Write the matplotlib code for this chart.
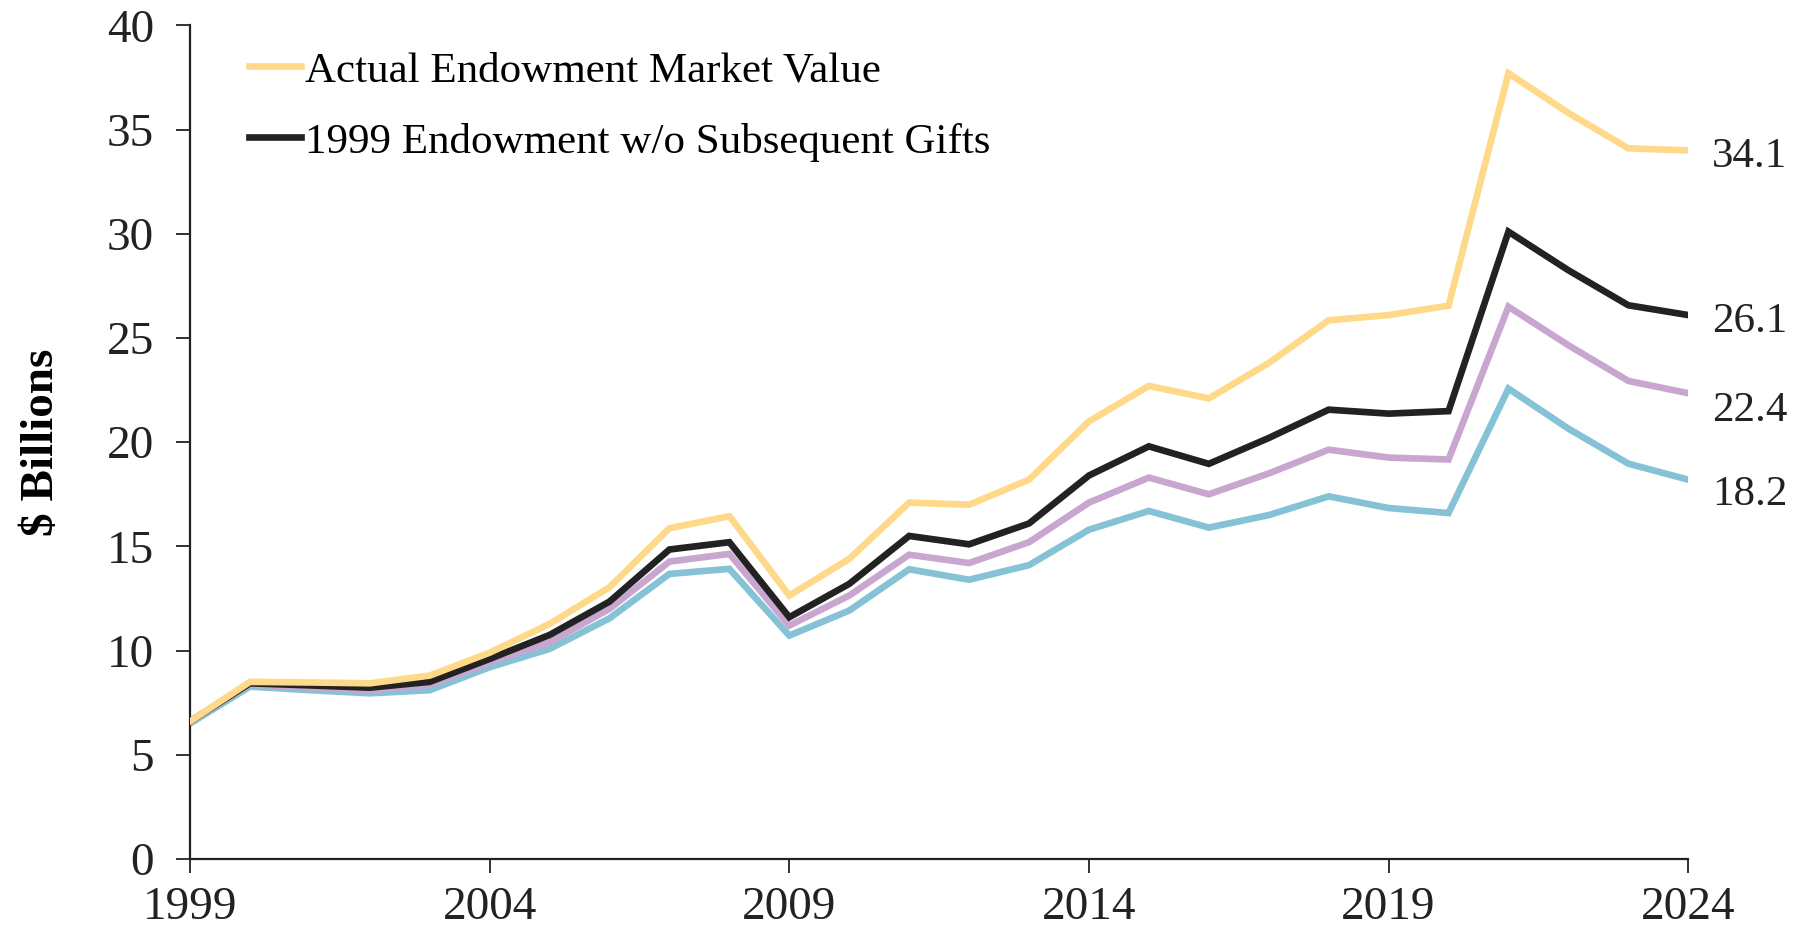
import matplotlib
matplotlib.use("Agg")
import matplotlib.pyplot as plt
import numpy as np

# data ($ billions, fiscal years)
years = list(range(1999, 2025))
actual = [6.6, 8.5, 8.47, 8.43, 8.8, 9.9, 11.28, 13.04, 15.87, 16.45, 12.64, 14.4,
          17.1, 17.0, 18.2, 21.0, 22.7, 22.1, 23.8, 25.85, 26.1, 26.55, 37.7, 35.8, 34.1, 34.0]
no_gifts = [6.6, 8.43, 8.33, 8.22, 8.5, 9.6, 10.75, 12.35, 14.85, 15.2, 11.6, 13.2,
            15.5, 15.1, 16.1, 18.4, 19.8, 18.96, 20.2, 21.56, 21.37, 21.49, 30.1, 28.25, 26.57, 26.1]
purple_line = [6.6, 8.38, 8.24, 8.1, 8.35, 9.44, 10.4, 12.0, 14.27, 14.64, 11.2, 12.64,
               14.6, 14.2, 15.2, 17.1, 18.3, 17.5, 18.5, 19.64, 19.26, 19.17, 26.5, 24.65, 22.94, 22.35]
blue_line = [6.5, 8.27, 8.1, 7.95, 8.1, 9.2, 10.08, 11.55, 13.68, 13.92, 10.72, 11.92,
             13.9, 13.4, 14.1, 15.8, 16.7, 15.9, 16.5, 17.4, 16.84, 16.6, 22.57, 20.65, 18.97, 18.2]
end_labels = ["34.1", "26.1", "22.4", "18.2"]
legend_labels = ["Actual Endowment Market Value", "1999 Endowment w/o Subsequent Gifts"]

plt.rcParams['font.family'] = ['Liberation Serif', 'DejaVu Serif']
plt.rcParams['font.size'] = 31

fig = plt.figure(figsize=(17.96, 9.4), dpi=100)
ax = fig.add_axes([0.1058, 0.0862, 0.8342, 0.8868])

colors = ['#FFD98A', '#222222', '#C9A6CF', '#86C2D5']
series = [actual, no_gifts, purple_line, blue_line]
# draw bottom series first so yellow/black sit on top like the original
for vals, col, z in zip(series[::-1], colors[::-1], [2, 3, 4, 5]):
    ax.plot(years, vals, color=col, lw=4.8, zorder=z, solid_joinstyle='miter')

l1, = ax.plot([], [], color=colors[0], lw=4.8)
l2, = ax.plot([], [], color=colors[1], lw=4.8)
ax.legend([l1, l2], legend_labels, loc='upper left', bbox_to_anchor=(0.028, 0.99),
          frameon=False, handlelength=1.2, handletextpad=0.1, labelspacing=0.75,
          fontsize=31, borderaxespad=0.0)

# end-of-line value labels
offsets = [-0.3, -0.3, -0.85, -0.7]
for vals, lab, dy in zip(series, end_labels, offsets):
    ax.annotate(lab, xy=(years[-1], vals[-1] + dy), xytext=(17, 0),
                textcoords='offset points', va='center', ha='left',
                fontsize=31, color='#222222', annotation_clip=False)

ax.set_xlim(1999, 2024)
ax.set_ylim(0, 40)
ax.set_xticks(range(1999, 2025, 5))
ax.set_yticks(range(0, 41, 5))
ax.spines['top'].set_visible(False)
ax.spines['right'].set_visible(False)
for s in ['left', 'bottom']:
    ax.spines[s].set_color('#222222')
    ax.spines[s].set_linewidth(1.6)
ax.tick_params(axis='x', direction='out', length=10, width=1.3, pad=10, colors='#222222', labelsize=34)
ax.tick_params(axis='y', direction='out', length=10, width=1.3, pad=16, colors='#222222', labelsize=34)
ax.set_ylabel('$ Billions', fontweight='bold', fontsize=34, labelpad=31)

fig.savefig('out.png', dpi=100)
